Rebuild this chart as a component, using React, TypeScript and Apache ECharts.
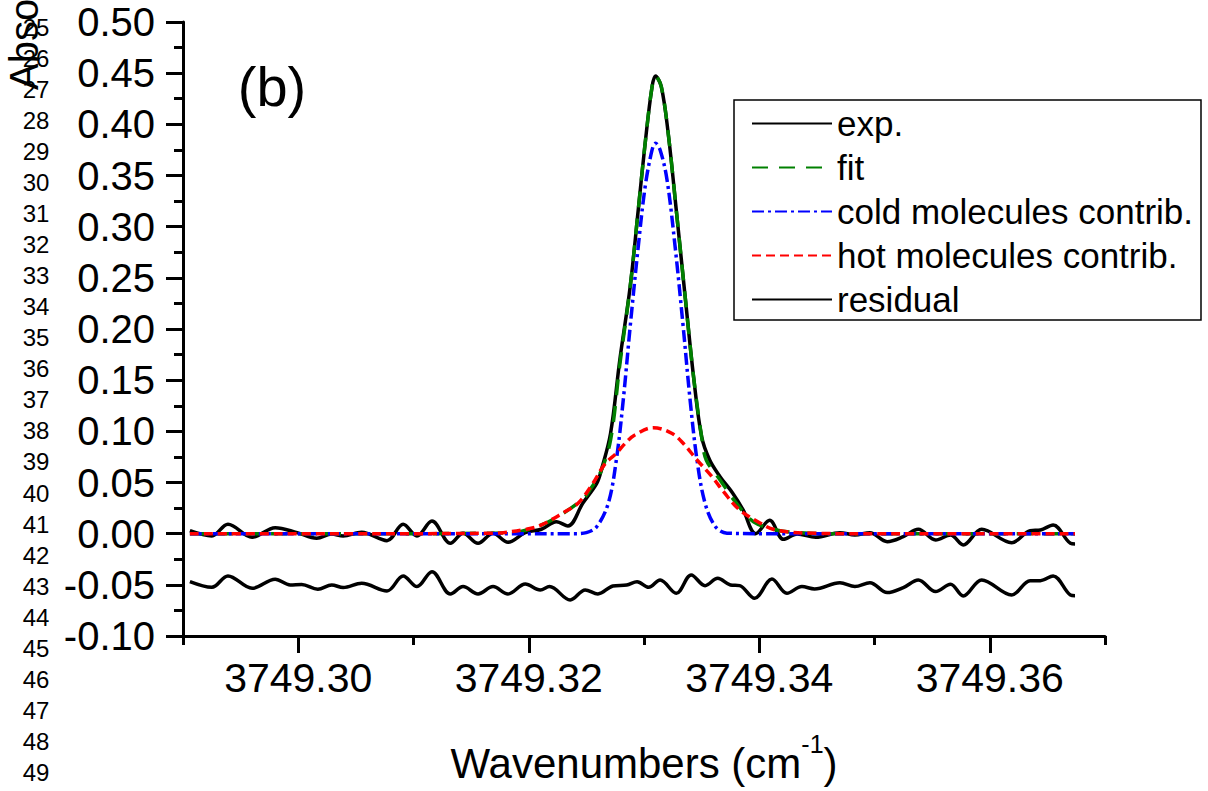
import React, { useEffect, useRef } from "react";
import * as echarts from "echarts";

// values: [wavenumber (cm-1), absorbance]
const expData: [number, number][] = [
  [3749.2906, 0.0029], [3749.2925, -0.0022], [3749.2939, 0.0092], [3749.296, -0.0035],
  [3749.298, 0.0059], [3749.2999, 0.001], [3749.3016, -0.0045], [3749.3029, -0.0003],
  [3749.3039, -0.0022], [3749.3055, 0.0014], [3749.3077, -0.0068], [3749.3091, 0.0092],
  [3749.3103, -0.0022], [3749.3116, 0.0124], [3749.3132, -0.0094], [3749.3143, 0.0004],
  [3749.3156, -0.0094], [3749.3169, 0.0004], [3749.3182, -0.0084], [3749.3197, 0.001],
  [3749.3211, 0.0043], [3749.3224, 0.0117], [3749.3234, 0.0075], [3749.3247, 0.03],
  [3749.3259, 0.0492], [3749.3263, 0.0622], [3749.3271, 0.0981], [3749.3279, 0.1697],
  [3749.3288, 0.2413], [3749.3295, 0.3163], [3749.3301, 0.3815], [3749.3307, 0.4368],
  [3749.331, 0.4472], [3749.3315, 0.4368], [3749.3321, 0.3912], [3749.3328, 0.3163],
  [3749.3336, 0.2283], [3749.3343, 0.1534], [3749.335, 0.0948], [3749.3357, 0.072],
  [3749.3366, 0.0557], [3749.3377, 0.0395], [3749.3386, 0.0232], [3749.3397, 0.0],
  [3749.3409, 0.013], [3749.3421, -0.0055], [3749.3433, -0.0003], [3749.3449, -0.0035],
  [3749.347, 0.001], [3749.3483, -0.0013], [3749.3496, 0.001], [3749.3511, -0.0078],
  [3749.3525, -0.0029], [3749.3538, 0.0043], [3749.3553, -0.0062], [3749.3566, -0.0013],
  [3749.3577, -0.011], [3749.3593, 0.0043], [3749.3619, -0.0088], [3749.3635, 0.0029],
  [3749.3644, 0.0036], [3749.3655, 0.0085], [3749.367, -0.0094], [3749.3674, -0.0101],
];

const fitData: [number, number][] = [
  [3749.2906, 0], [3749.3, 0], [3749.31, 0], [3749.317, 0.0005], [3749.3186, 0.001],
  [3749.3211, 0.0085], [3749.323, 0.02], [3749.3249, 0.036], [3749.3253, 0.0427],
  [3749.3262, 0.059], [3749.3271, 0.0916], [3749.3279, 0.165], [3749.3288, 0.2413],
  [3749.3295, 0.3163], [3749.3301, 0.3815], [3749.3307, 0.4368], [3749.331, 0.447],
  [3749.3315, 0.4368], [3749.3321, 0.3912], [3749.3328, 0.3163], [3749.3336, 0.2283],
  [3749.3343, 0.1534], [3749.335, 0.0948], [3749.3354, 0.072], [3749.3366, 0.0525],
  [3749.338, 0.03], [3749.3395, 0.0117], [3749.3415, 0.0036], [3749.3435, 0.001],
  [3749.346, 0], [3749.355, 0], [3749.3674, 0],
];

const coldData: [number, number][] = [
  [3749.2906, 0], [3749.31, 0], [3749.324, 0], [3749.325, 0.001], [3749.3259, 0.0068],
  [3749.3269, 0.0297], [3749.3276, 0.072], [3749.3282, 0.1306], [3749.3288, 0.2023],
  [3749.3295, 0.2804], [3749.3301, 0.339], [3749.3307, 0.375], [3749.331, 0.3815],
  [3749.3314, 0.375], [3749.332, 0.3456], [3749.3327, 0.2804], [3749.3334, 0.2023],
  [3749.334, 0.1306], [3749.3346, 0.072], [3749.3353, 0.0297], [3749.3362, 0.0068],
  [3749.3372, 0.0005], [3749.34, 0], [3749.355, 0], [3749.3674, 0],
];

const hotData: [number, number][] = [
  [3749.2906, 0], [3749.31, 0], [3749.317, 0.0005], [3749.3178, 0.001], [3749.3198, 0.0043],
  [3749.3211, 0.0085], [3749.323, 0.0205], [3749.3243, 0.03], [3749.3255, 0.048],
  [3749.3266, 0.068], [3749.3276, 0.0785], [3749.3285, 0.0899], [3749.3292, 0.0964],
  [3749.3308, 0.1036], [3749.3324, 0.0981], [3749.3334, 0.0883], [3749.3346, 0.072],
  [3749.3359, 0.0557], [3749.3369, 0.041], [3749.3383, 0.0232], [3749.3401, 0.0102],
  [3749.3412, 0.0043], [3749.3427, 0.0015], [3749.345, 0.0003], [3749.348, 0], [3749.3674, 0],
];

const residualData: [number, number][] = [
  [3749.2906, -0.0469], [3749.2925, -0.0524], [3749.2939, -0.0413], [3749.296, -0.0534],
  [3749.298, -0.0446], [3749.2993, -0.0501], [3749.3003, -0.0497], [3749.3017, -0.0543],
  [3749.3029, -0.0501], [3749.3039, -0.0527], [3749.3055, -0.0485], [3749.3077, -0.056],
  [3749.3091, -0.0413], [3749.3103, -0.0517], [3749.3116, -0.0371], [3749.3132, -0.0589],
  [3749.3143, -0.0517], [3749.3156, -0.0589], [3749.3169, -0.0517], [3749.3182, -0.0589],
  [3749.3197, -0.0492], [3749.321, -0.055], [3749.3218, -0.0517], [3749.3236, -0.0648],
  [3749.3249, -0.055], [3749.326, -0.0589], [3749.3273, -0.0511], [3749.3285, -0.0501],
  [3749.3294, -0.0469], [3749.3304, -0.0524], [3749.3314, -0.0452], [3749.3328, -0.0583],
  [3749.3341, -0.0404], [3749.3353, -0.0508], [3749.3364, -0.0436], [3749.3375, -0.0501],
  [3749.3383, -0.0508], [3749.3396, -0.0631], [3749.3411, -0.0443], [3749.3424, -0.0583],
  [3749.3437, -0.0517], [3749.3448, -0.054], [3749.347, -0.0479], [3749.3483, -0.0517],
  [3749.3496, -0.0479], [3749.3511, -0.0576], [3749.3525, -0.0527], [3749.3538, -0.0452],
  [3749.3553, -0.0566], [3749.3566, -0.0495], [3749.3577, -0.0609], [3749.3593, -0.0452],
  [3749.3619, -0.0599], [3749.3635, -0.0459], [3749.3644, -0.0459], [3749.3655, -0.0413],
  [3749.367, -0.0599], [3749.3674, -0.0606],
];

const seriesNames = ["exp.", "fit", "cold molecules contrib.", "hot molecules contrib.", "residual"];
const xMajorTicks = [3749.3, 3749.32, 3749.34, 3749.36];
const xMinorTicks = [3749.29, 3749.31, 3749.33, 3749.35, 3749.37];
const lineNumbers = [25, 26, 27, 28, 29, 30, 31, 32, 33, 34, 35, 36, 37, 38, 39, 40, 41, 42, 43, 44, 45, 46, 47, 48, 49];

const FONT = "'Liberation Sans', Arial, Helvetica, sans-serif";

const App: React.FC = () => {
  const chartRef = useRef<HTMLDivElement>(null);

  useEffect(() => {
    const chart = echarts.init(chartRef.current!, null, { renderer: "svg" });

    const seriesData = [expData, fitData, coldData, hotData, residualData];
    const lineStyles: any[] = [
      { color: "#000000", type: "solid" },
      { color: "#008000", type: [16, 11] },
      { color: "#0000ff", type: [12, 4, 3, 4] },
      { color: "#ff0000", type: [9, 5] },
      { color: "#000000", type: "solid" },
    ];

    const axisLineStyle = { color: "#000", width: 3 };

    chart.setOption({
      animation: false,
      backgroundColor: "#fff",
      grid: {
        left: 183,
        top: 22,
        right: 103,
        bottom: 155,
        containLabel: false,
        outerBoundsMode: "none",
      },
      legend: {
        orient: "vertical",
        left: 734,
        top: 100,
        padding: [6, 8, 3, 17],
        borderColor: "#000",
        borderWidth: 1.5,
        itemWidth: 80,
        itemHeight: 14,
        itemGap: 9,
        itemStyle: { opacity: 0 },
        textStyle: { fontSize: 35, lineHeight: 34, color: "#000", fontFamily: FONT },
        data: seriesNames,
      },
      xAxis: [
        {
          type: "value",
          min: 3749.29,
          max: 3749.37,
          interval: 0.01,
          axisLine: { onZero: false, lineStyle: axisLineStyle },
          axisTick: { customValues: xMajorTicks, length: 17, lineStyle: axisLineStyle },
          axisLabel: {
            customValues: xMajorTicks,
            formatter: (v: number) => v.toFixed(2),
            fontSize: 41,
            margin: 21,
            color: "#000",
            fontFamily: FONT,
          },
          splitLine: { show: false },
          name: "{a|Wavenumbers (cm}{s|-1}{a|)}",
          nameLocation: "middle",
          nameGap: 95,
          nameTextStyle: {
            rich: {
              a: { fontSize: 42, lineHeight: 64, color: "#000", fontFamily: FONT },
              s: { fontSize: 25, lineHeight: 25, verticalAlign: "top", color: "#000", fontFamily: FONT },
            },
          },
        },
        {
          type: "value",
          position: "bottom",
          min: 3749.29,
          max: 3749.37,
          interval: 0.01,
          axisLine: { show: false, onZero: false },
          axisTick: { customValues: xMinorTicks, length: 9, lineStyle: axisLineStyle },
          axisLabel: { show: false },
          splitLine: { show: false },
        },
      ],
      yAxis: {
        type: "value",
        min: -0.1,
        max: 0.5,
        interval: 0.05,
        axisLine: { show: true, onZero: false, lineStyle: axisLineStyle },
        axisTick: { show: true, length: 17, lineStyle: axisLineStyle },
        minorTick: { show: true, splitNumber: 2, length: 9, lineStyle: axisLineStyle },
        axisLabel: {
          formatter: (v: number) => v.toFixed(2),
          fontSize: 40,
          margin: 28,
          color: "#000",
          fontFamily: FONT,
        },
        splitLine: { show: false },
        minorSplitLine: { show: false },
      },
      graphic: [
        {
          type: "text",
          x: 272,
          y: 86,
          style: { text: "(b)", fontSize: 56, fontFamily: FONT, fill: "#000", align: "center", verticalAlign: "middle" },
        },
        ...lineNumbers.map((n, i) => ({
          type: "text",
          x: 36,
          y: 27 + i * 31.07,
          style: { text: String(n), fontSize: 24, fontFamily: FONT, fill: "#000", align: "center", verticalAlign: "middle" },
        })),
        {
          type: "text",
          x: 24,
          y: 90,
          rotation: Math.PI / 2,
          style: { text: "Absorbance", fontSize: 40, fontFamily: FONT, fill: "#000", align: "left", verticalAlign: "middle" },
        },
      ],
      series: seriesNames.map((name, i) => ({
        name,
        type: "line",
        xAxisIndex: 0,
        data: seriesData[i],
        symbol: "none",
        showSymbol: false,
        smooth: 0.35,
        lineStyle: { ...lineStyles[i], width: 3.5 },
        itemStyle: { color: lineStyles[i].color },
        emphasis: { disabled: true },
        z: 2 + i,
      })),
    });

    return () => {
      chart.dispose();
    };
  }, []);

  return (
    <div
      ref={chartRef}
      style={{ position: "absolute", left: 0, top: 0, width: "1208px", height: "791px" }}
    />
  );
};

export default App;
